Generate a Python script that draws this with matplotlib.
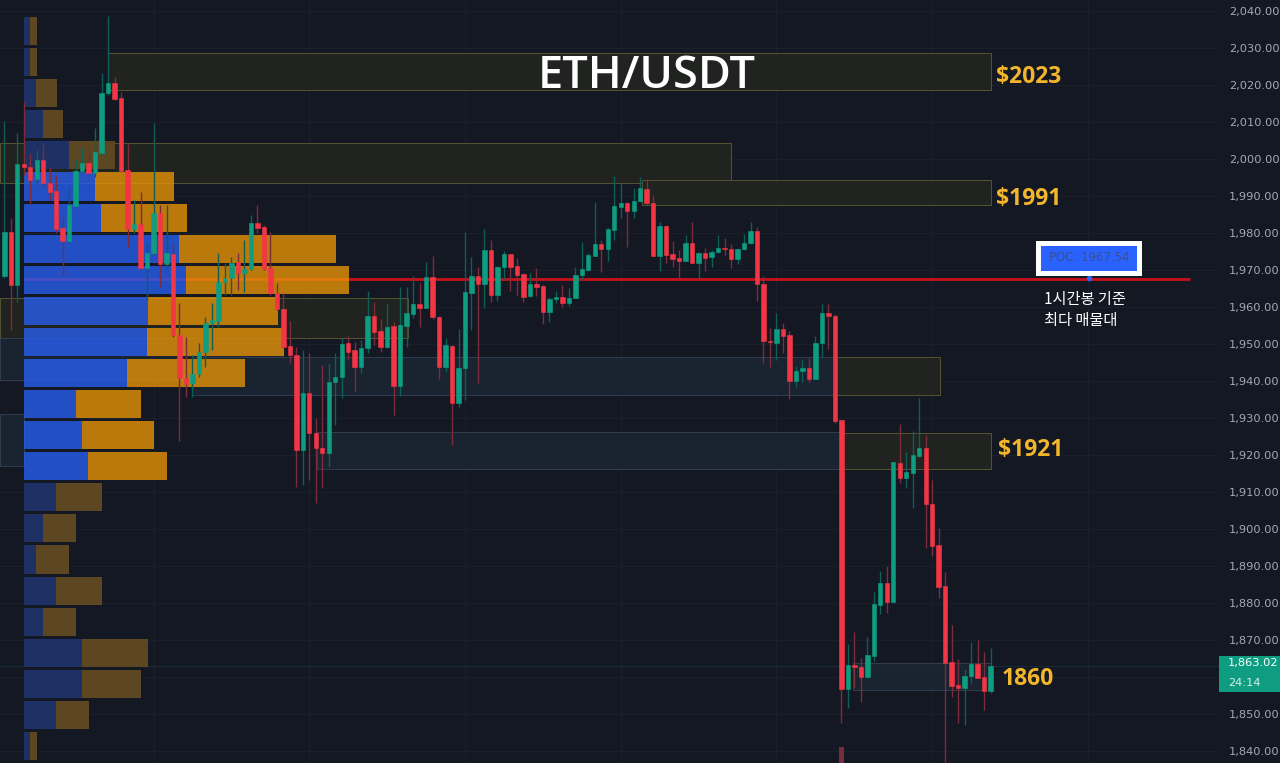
import matplotlib
matplotlib.use("Agg")
import matplotlib.pyplot as plt
from matplotlib.patches import Rectangle

# hourly candles
opens = [1968.3, 1980.2, 1965.9, 1998.6, 1997.7, 1994.5, 1999.6, 1993.4, 1991.3, 1981.3,
         1977.8, 1987.3, 1996.7, 1998.8, 1996.1, 2001.6, 2017.8, 2020.5, 2016.4, 1997.0,
         1981.0, 1982.3, 1970.5, 1974.5, 1985.3, 1971.5, 1974.2, 1952.4, 1940.7, 1939.4,
         1941.8, 1947.7, 1955.6, 1956.1, 1966.7, 1967.8, 1972.0, 1969.1, 1970.2, 1982.6,
         1981.5, 1970.5, 1963.7, 1959.3, 1949.4, 1946.9, 1921.2, 1936.7, 1925.8, 1921.8,
         1920.4, 1939.6, 1941.0, 1950.1, 1948.3, 1943.7, 1948.8, 1957.5, 1953.4, 1949.1,
         1954.7, 1938.6, 1954.7, 1958.0, 1960.7, 1959.6, 1968.0, 1957.2, 1943.7, 1949.4,
         1934.0, 1943.4, 1963.7, 1968.3, 1966.1, 1975.3, 1963.1, 1970.7, 1974.2, 1971.0,
         1968.8, 1962.9, 1966.1, 1965.6, 1958.6, 1962.1, 1962.6, 1961.0, 1962.4, 1968.6,
         1969.9, 1973.7, 1976.9, 1975.6, 1980.7, 1987.0, 1988.0, 1985.8, 1988.6, 1991.8,
         1988.0, 1973.7, 1981.8, 1974.2, 1973.2, 1972.3, 1977.2, 1971.8, 1974.5, 1973.4,
         1974.8, 1975.9, 1975.6, 1972.9, 1975.6, 1977.2, 1980.5, 1966.1, 1950.7, 1950.1,
         1953.9, 1952.4, 1939.9, 1942.6, 1943.4, 1940.5, 1950.1, 1958.3, 1957.5, 1929.3,
         1856.7, 1863.2, 1862.6, 1859.9, 1865.6, 1879.4, 1885.3, 1880.2, 1917.8, 1913.7,
         1915.1, 1919.6, 1921.8, 1906.7, 1895.6, 1884.5, 1864.0, 1857.8, 1856.9, 1860.2,
         1863.4, 1859.9, 1856.2]
highs = [2010.2, 1984.0, 2006.9, 2015.3, 2001.3, 2002.4, 2004.0, 1997.7, 1995.6, 1984.0,
         1992.4, 1999.9, 2002.9, 2002.4, 2008.3, 2023.2, 2038.6, 2022.1, 2018.0, 2004.0,
         1988.9, 1991.0, 1977.2, 2009.7, 1987.5, 1987.5, 1977.2, 1961.0, 1951.8, 1946.9,
         1950.1, 1957.2, 1961.0, 1974.5, 1971.8, 1973.4, 1974.5, 1978.0, 1984.8, 1987.5,
         1982.1, 1980.2, 1966.4, 1963.7, 1956.1, 1949.1, 1948.3, 1947.4, 1929.9, 1944.2,
         1944.8, 1947.4, 1951.5, 1952.1, 1950.4, 1950.9, 1964.2, 1961.3, 1956.6, 1960.7,
         1955.9, 1965.3, 1965.3, 1968.3, 1966.4, 1972.0, 1973.7, 1957.5, 1951.5, 1949.6,
         1953.9, 1980.2, 1973.4, 1970.7, 1981.0, 1978.0, 1971.0, 1975.1, 1974.2, 1973.2,
         1969.1, 1969.1, 1970.5, 1965.9, 1962.6, 1964.2, 1965.9, 1965.1, 1970.7, 1977.5,
         1974.5, 1988.3, 1978.0, 1981.3, 1995.3, 1993.2, 1988.3, 1992.1, 1995.1, 1994.5,
         1990.2, 1982.9, 1982.1, 1977.8, 1975.3, 1979.4, 1982.9, 1974.8, 1975.9, 1975.3,
         1979.4, 1978.6, 1976.9, 1975.9, 1979.7, 1982.9, 1981.5, 1968.3, 1954.2, 1958.3,
         1955.6, 1953.4, 1944.0, 1945.5, 1946.1, 1952.1, 1960.7, 1960.7, 1958.0, 1929.3,
         1868.8, 1872.1, 1865.1, 1870.7, 1882.9, 1888.6, 1890.0, 1918.0, 1928.3, 1920.7,
         1926.4, 1935.3, 1925.3, 1913.1, 1900.2, 1888.3, 1874.1, 1864.8, 1862.1, 1869.4,
         1869.9, 1866.7, 1867.8]
lows = [1967.8, 1953.7, 1961.3, 1995.6, 1987.8, 1992.9, 1992.4, 1988.9, 1979.9, 1968.6,
        1977.2, 1987.0, 1996.1, 1995.6, 1995.1, 2001.0, 2017.2, 2015.9, 1996.4, 1976.1,
        1979.9, 1969.9, 1961.8, 1974.0, 1965.3, 1969.9, 1951.8, 1923.7, 1935.6, 1935.6,
        1941.0, 1943.7, 1948.3, 1954.5, 1963.1, 1963.1, 1964.5, 1964.0, 1969.9, 1979.9,
        1969.9, 1963.1, 1959.1, 1948.8, 1944.8, 1911.3, 1911.8, 1913.1, 1906.9, 1911.0,
        1916.6, 1928.0, 1935.3, 1945.5, 1937.0, 1942.1, 1947.4, 1949.6, 1947.7, 1948.8,
        1930.7, 1935.9, 1949.1, 1956.9, 1954.5, 1959.6, 1956.6, 1940.5, 1942.4, 1922.6,
        1932.9, 1934.8, 1953.7, 1939.4, 1959.6, 1961.3, 1961.5, 1967.5, 1964.2, 1963.1,
        1961.3, 1962.6, 1962.9, 1955.3, 1955.9, 1961.0, 1959.9, 1960.2, 1962.4, 1967.2,
        1969.9, 1973.7, 1969.4, 1972.3, 1978.0, 1984.0, 1976.1, 1984.0, 1988.3, 1987.8,
        1973.7, 1969.7, 1971.8, 1970.7, 1967.5, 1972.3, 1971.8, 1967.5, 1969.7, 1970.7,
        1974.5, 1974.0, 1970.5, 1971.5, 1975.3, 1976.9, 1961.5, 1944.8, 1943.7, 1945.5,
        1947.4, 1935.0, 1938.3, 1939.6, 1939.6, 1940.5, 1946.4, 1948.5, 1928.5, 1847.5,
        1851.5, 1857.0, 1853.2, 1859.6, 1864.3, 1876.9, 1877.2, 1880.2, 1912.4, 1911.0,
        1905.6, 1919.4, 1894.8, 1892.6, 1881.3, 1836.9, 1854.5, 1847.5, 1846.9, 1858.2,
        1859.6, 1851.0, 1855.6]
closes = [1980.2, 1965.9, 1998.6, 1997.7, 1994.2, 1999.6, 1993.4, 1991.0, 1981.0, 1977.8,
          1987.5, 1996.7, 1998.8, 1996.1, 2001.8, 2017.8, 2020.5, 2016.1, 1996.7, 1981.0,
          1982.3, 1970.5, 1974.5, 1985.3, 1971.5, 1974.5, 1952.4, 1940.7, 1939.1, 1941.8,
          1947.7, 1955.6, 1956.4, 1966.7, 1967.8, 1971.8, 1969.1, 1970.2, 1982.6, 1981.3,
          1970.2, 1963.7, 1959.3, 1949.1, 1946.9, 1921.2, 1936.7, 1925.8, 1921.8, 1920.4,
          1939.6, 1941.0, 1949.9, 1947.7, 1943.7, 1948.8, 1957.5, 1953.2, 1949.1, 1954.5,
          1938.6, 1955.0, 1958.3, 1960.7, 1959.6, 1968.0, 1957.2, 1943.7, 1949.6, 1934.0,
          1943.4, 1964.0, 1968.3, 1966.1, 1975.3, 1963.1, 1970.7, 1974.2, 1970.7, 1968.6,
          1962.6, 1966.1, 1965.3, 1958.6, 1962.1, 1962.6, 1961.0, 1962.4, 1968.6, 1970.2,
          1974.0, 1976.9, 1975.6, 1981.0, 1987.3, 1988.0, 1985.8, 1988.6, 1992.1, 1988.0,
          1973.7, 1981.8, 1974.0, 1972.9, 1972.3, 1977.2, 1971.8, 1974.5, 1973.2, 1974.8,
          1975.9, 1975.6, 1972.9, 1975.6, 1977.2, 1980.5, 1966.1, 1950.7, 1950.4, 1953.9,
          1952.1, 1939.9, 1942.6, 1943.4, 1940.5, 1950.1, 1958.3, 1957.5, 1929.0, 1856.7,
          1863.2, 1862.6, 1859.9, 1865.9, 1879.7, 1885.3, 1880.2, 1918.0, 1913.7, 1915.3,
          1919.9, 1921.8, 1906.7, 1895.3, 1884.2, 1863.7, 1857.5, 1856.9, 1860.2, 1863.4,
          1859.6, 1856.2, 1863.0]

# volume profile rows, top to bottom
row_prices = [2034.5, 2026.1, 2017.7, 2009.3, 2000.9, 1992.5, 1984.1, 1975.7,
              1967.3, 1958.9, 1950.5, 1942.1, 1933.7, 1925.3, 1916.9, 1908.5,
              1900.1, 1891.7, 1883.3, 1874.9, 1866.5, 1858.1, 1849.7, 1841.3]
buy_volume = [6, 6, 12, 19, 45, 71, 77, 155, 162, 124, 123, 103,
              52, 58, 64, 32, 19, 12, 32, 19, 58, 58, 32, 6]
sell_volume = [7, 7, 21, 20, 46, 79, 86, 157, 163, 130, 137, 118,
               65, 72, 79, 46, 33, 33, 46, 33, 66, 59, 33, 7]
value_area = (1916.0, 1993.0)

# supply / demand boxes: start bar, end bar, top price, bottom price
yellow_zones = [(16, 152, 2028.6, 2018.6),
                (-0.7, 112, 2004.3, 1993.4),
                (98.3, 152, 1994.2, 1987.5),
                (-0.7, 62.2, 1962.4, 1951.5),
                (128.1, 144.2, 1946.4, 1936.1),
                (129.2, 152, 1925.9, 1916.1)]
blue_zones = [(-0.7, 43, 1951.5, 1940.2),
              (29, 128.1, 1946.4, 1936.1),
              (-0.7, 3, 1931.0, 1917.0),
              (48.2, 129.2, 1926.1, 1916.1),
              (130.8, 152, 1863.7, 1856.4)]

price_ticks = list(range(1840, 2041, 10))
hidden_tick = 1860  # sits under the last price tag
session_bars = [23, 47, 71, 95, 119, 143, 167]
poc_price = 1967.54
last_price = 1863.02

BG = "#141823"
GRID = "#1a1f2b"
UP = "#0f9d82"
DOWN = "#f23645"
UP_WICK = "#0e5f56"
DOWN_WICK = "#7c2c3b"
AMBER = "#f2b52b"

BAR_PX = 6.49  # one candle step in pixels
VOL_SCALE = 1 / BAR_PX


def draw_zones(ax, zones, face, edge):
    for x0, x1, top, bottom in zones:
        ax.add_patch(Rectangle((x0, bottom), x1 - x0, top - bottom, facecolor=face,
                               edgecolor=edge, linewidth=0.7, zorder=1))


def main():
    fig = plt.figure(figsize=(12.8, 7.63), dpi=100, facecolor=BG)
    ax = fig.add_axes([0, 0, 1219 / 1280, 1], facecolor=BG)
    ax.set_xlim(-0.663, 187.2)
    ax.set_ylim(1836.7, 2042.9)

    for side in ax.spines.values():
        side.set_visible(False)
    ax.yaxis.tick_right()
    ax.set_yticks(price_ticks)
    ax.set_yticklabels(["" if p == hidden_tick else f"{p:,.2f}" for p in price_ticks])
    ax.tick_params(axis="y", length=0, pad=7, labelsize=8.2, labelcolor="#a6a9b2")
    ax.set_xticks(session_bars)
    ax.tick_params(axis="x", length=0, labelbottom=False)
    ax.grid(True, color=GRID, linewidth=0.8, zorder=0)
    ax.set_axisbelow(True)

    draw_zones(ax, yellow_zones, "#20231f", "#565434")
    draw_zones(ax, blue_zones, "#1a2330", "#303e50")

    ax.axhline(last_price, color="#152b36", linewidth=0.8, zorder=1)
    ax.hlines(poc_price, 3.03, 182.8, color="#c8111b", linewidth=2, zorder=2)

    # volume profile
    for price, buy, sell in zip(row_prices, buy_volume, sell_volume):
        bright = value_area[0] <= price <= value_area[1]
        buy_c = "#285eef" if bright else "#1e3064"
        sell_c = "#e69206" if bright else "#5c4722"
        alpha = 0.8 if bright else 1
        ax.barh(price, buy * VOL_SCALE, left=3.03, height=7.6, color=buy_c,
                alpha=alpha, linewidth=0, zorder=3)
        ax.barh(price, sell * VOL_SCALE, left=3.03 + buy * VOL_SCALE, height=7.6,
                color=sell_c, alpha=alpha, linewidth=0, zorder=3)

    # candles
    bars = list(range(len(opens)))
    colors = [UP if c >= o else DOWN for o, c in zip(opens, closes)]
    wick_colors = [UP_WICK if c >= o else DOWN_WICK for o, c in zip(opens, closes)]
    ax.vlines(bars, lows, highs, colors=wick_colors, linewidth=1, zorder=4)
    ax.bar(bars, [abs(c - o) for o, c in zip(opens, closes)],
           bottom=[min(o, c) for o, c in zip(opens, closes)],
           width=0.68, color=colors, edgecolor=colors, linewidth=0.4, zorder=5)
    # faded stub at the bottom edge, under bar 129
    ax.bar(129, 5, bottom=1836, width=0.8, color="#7a2c3c", linewidth=0, zorder=4)

    # labels
    ax.text(99.0, 2022.3, "ETH/USDT", color="white", fontsize=32.5, fontweight="semibold",
            family="Open Sans", ha="center", va="center", zorder=6)
    ax.text(152.8, 2022.0, "$2023", color=AMBER, fontsize=16.5, fontweight="bold",
            family="Open Sans", va="center", zorder=6)
    ax.text(152.8, 1989.1, "$1991", color=AMBER, fontsize=16.5, fontweight="bold",
            family="Open Sans", va="center", zorder=6)
    ax.text(153.1, 1921.3, "$1921", color=AMBER, fontsize=16.5, fontweight="bold",
            family="Open Sans", va="center", zorder=6)
    ax.text(153.7, 1859.4, "1860", color=AMBER, fontsize=16.5, fontweight="bold",
            family="Open Sans", va="center", zorder=6)

    # POC tag
    ax.plot([167.2], [poc_price + 0.3], "o", color="#2962ff", markersize=3, zorder=6)
    ax.add_patch(Rectangle((159.35, 1969.25), 15.45, 7.85, facecolor="#2962ff",
                           edgecolor="white", linewidth=3.6, zorder=7))
    ax.text(167.2, 1973.3, f"POC: {poc_price}", color="#3a4f90", fontsize=8.4,
            ha="center", va="center", zorder=8)
    ax.text(160.2, 1959.1, "1시간봉 기준\n최다 매물대", color="white", fontsize=11,
            family=["Noto Sans CJK KR", "DejaVu Sans"], linespacing=1.26, va="center",
            zorder=6)

    # last price tag on the axis
    trans = ax.get_yaxis_transform()
    ax.add_patch(Rectangle((1, 1855.9), 61 / 1219, 9.7, transform=trans, clip_on=False,
                           facecolor="#0f9d82", edgecolor="none", zorder=9))
    ax.text(1.0074, 1863.7, f"{last_price:,.2f}", transform=trans, color="white",
            fontsize=8.2, va="center", zorder=10)
    ax.text(1.0074, 1858.4, "24:14", transform=trans, color="#d7efe9", fontsize=8.2,
            va="center", zorder=10)

    fig.savefig("out.png", dpi=100, facecolor=BG)


if __name__ == "__main__":
    main()
